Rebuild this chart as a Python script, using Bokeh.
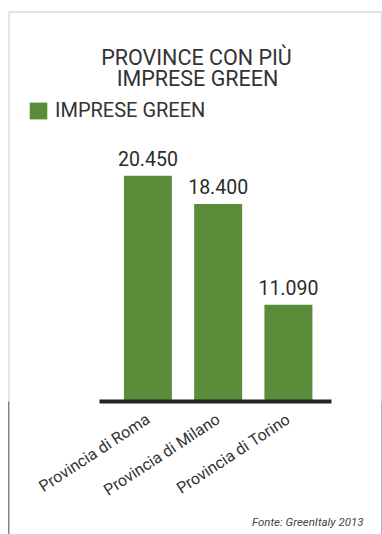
from bokeh.plotting import figure
from bokeh.models import (Range1d, FixedTicker, Label, LabelSet, BoxAnnotation,
                          ColumnDataSource, Legend, LegendItem, Title)
from bokeh.embed import file_html
from bokeh.resources import INLINE
from bokeh.core.properties import value

# ---- data ----
categories = ["Provincia di Roma", "Provincia di Milano", "Provincia di Torino"]
imprese_green = [20450, 18400, 11090]
value_labels = ["20.450", "18.400", "11.090"]
title_lines = ["PROVINCE CON PIÙ", "IMPRESE GREEN"]
series_name = "IMPRESE GREEN"
source_note = "Fonte: GreenItaly 2013"

GREEN = "#5b8c3a"
TEXT = "#333333"
FONT = "Roboto"
BORDER = "#858585"

W, H = 382, 534
FRAME_BOTTOM = 401  # px from top where the baseline sits

positions = list(range(len(categories)))
src = ColumnDataSource(dict(x=positions, top=imprese_green, label=value_labels))

p = figure(width=W, height=H, output_backend="svg", toolbar_location=None,
           x_range=Range1d(-2.098, 3.339), y_range=Range1d(4078, 33174),
           y_axis_location=None,
           min_border_left=0, min_border_right=0,
           min_border_top=0, min_border_bottom=H - FRAME_BOTTOM)
# pixel-like helper ranges for layout text
p.extra_x_ranges = {"px": Range1d(0, W)}
p.extra_y_ranges = {"px": Range1d(FRAME_BOTTOM, 0)}
p.outline_line_color = None
p.grid.visible = False
p.background_fill_color = "white"
p.border_fill_color = None
# infographic border lines continuing below the plot frame (page CSS)
p.styles = {
    "background-color": "white",
    "background-image": f"linear-gradient({BORDER}, {BORDER}), linear-gradient(#b5b5b5, #b5b5b5)",
    "background-size": "1.5px 600px, 1px 600px",
    "background-position": "7.75px 11px, 380.5px 11px",
    "background-repeat": "no-repeat",
}

bars = p.vbar(x="x", top="top", bottom=0, width=0.683, source=src,
              fill_color=GREEN, line_color=None)
p.add_layout(LabelSet(x="x", y="top", text="label", source=src, text_align="center",
                      text_baseline="alphabetic", y_offset=10, text_font=value(FONT),
                      text_font_size="19.5px", text_color="#2b2b2b"))

xa = p.xaxis[0]
xa.ticker = FixedTicker(ticks=positions)
xa.bounds = (-0.689, 2.614)
xa.major_label_overrides = {i: c for i, c in zip(positions, categories)}
xa.major_label_orientation = 0.58
xa.axis_line_width = 4
xa.axis_line_color = "#222222"
xa.major_tick_line_color = None
xa.minor_tick_line_color = None
xa.major_tick_out = 0
xa.major_tick_in = 0
xa.axis_label_standoff = 0
xa.major_label_text_font = FONT
xa.major_label_text_font_size = "16px"
xa.major_label_text_color = TEXT
xa.major_label_standoff = 16

# frame border of the infographic (inside the plot area)
p.add_layout(BoxAnnotation(left=8.5, right=381, top=11.5, bottom=2000,
                           x_range_name="px", y_range_name="px",
                           fill_color=None, line_color=BORDER, line_width=1.5))

# title
for txt, yy, xx in zip(title_lines, [57, 78], [196, 197]):
    p.add_layout(Label(x=xx, y=yy, x_range_name="px", y_range_name="px", text=txt,
                       text_align="center", text_baseline="alphabetic",
                       text_font=FONT, text_font_size="21.5px", text_color=TEXT))

# legend
legend = Legend(items=[LegendItem(label=series_name, renderers=[bars])],
                location=(27, FRAME_BOTTOM - 122), padding=0, margin=0, spacing=0,
                glyph_width=22, glyph_height=21, label_standoff=6,
                label_height=21, label_text_font=FONT, label_text_font_size="20px",
                label_text_color=TEXT, label_text_baseline="middle",
                border_line_color=None, background_fill_alpha=0)
p.add_layout(legend)

# source
p.add_layout(Title(text=source_note, align="right", offset=19, standoff=5,
                   text_font=FONT, text_font_style="italic",
                   text_font_size="11.5px", text_color="#444444"), "below")

open("out.html", "w").write(file_html(p, INLINE))
